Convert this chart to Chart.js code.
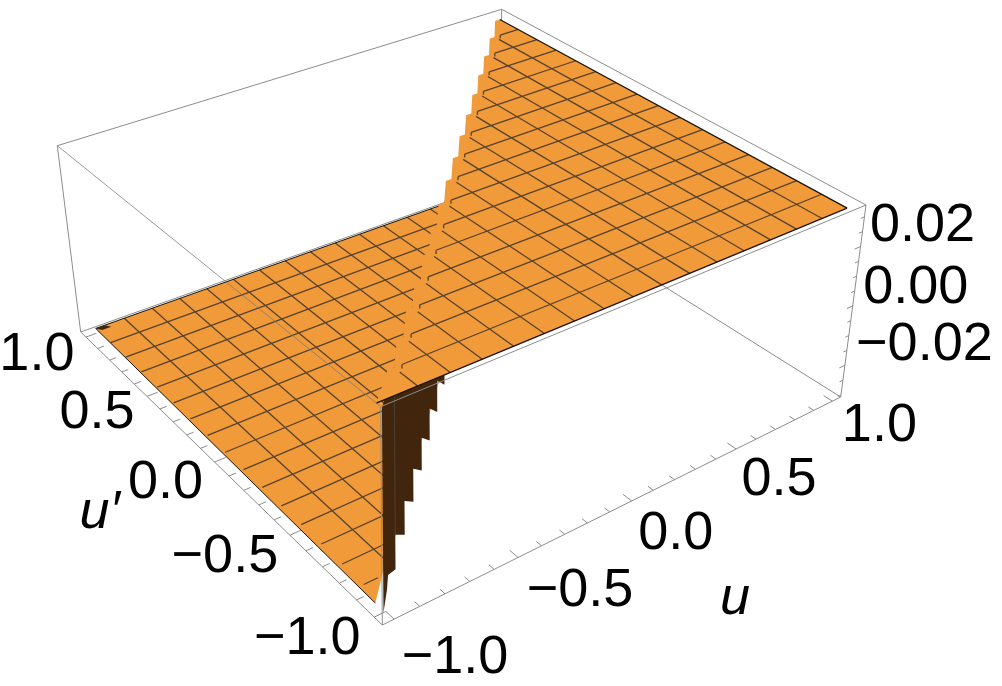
<!DOCTYPE html>
<html>
<head>
<meta charset="utf-8">
<style>
  html, body { margin: 0; background: #fff; }
  canvas { display: block; }
</style>
<script src="https://cdn.jsdelivr.net/npm/chart.js@4"></script>
</head>
<body>
<canvas id="chart" width="1002" height="686"></canvas>
<script>
// axis ticks
const axisTicks = [-1, -0.9, -0.8, -0.7, -0.6, -0.5, -0.4, -0.3, -0.2, -0.1, 0, 0.1, 0.2, 0.3, 0.4, 0.5, 0.6, 0.7, 0.8, 0.9, 1];
const axisMajor = [-1, -0.5, 0, 0.5, 1];
const axisLabels = ['\u22121.0', '\u22120.5', '0.0', '0.5', '1.0'];
const zTicks = [-0.03, -0.025, -0.02, -0.015, -0.01, -0.005, 0, 0.005, 0.01, 0.015, 0.02, 0.025, 0.03];
const zMajor = [-0.02, 0, 0.02];
const zLabels = ['\u22120.02', '0.00', '0.02'];

// surface values
const meshLines = [-0.875, -0.75, -0.625, -0.5, -0.375, -0.25, -0.125, 0, 0.125, 0.25, 0.375, 0.5, 0.625, 0.75, 0.875];
const zLow = -0.029;
const zHigh = 0.0325;
const lowSheetU = [-1, 1, -0.875, -1.02];
const lowSheetUp = [1, 1, -0.82, -0.97];
const highSheetU = [1, 1, -1.03, -0.9, -0.875, -0.775, -0.75, -0.65, -0.625, -0.525, -0.5, -0.4, -0.375, -0.275, -0.25, -0.15, -0.125, -0.025, 0, 0.1, 0.125, 0.225, 0.25, 0.35, 0.375, 0.475, 0.5, 0.6, 0.625, 0.725, 0.75, 0.85, 0.875, 0.975];
const highSheetUp = [1, -1, -1, -0.875, -0.875, -0.75, -0.75, -0.625, -0.625, -0.5, -0.5, -0.375, -0.375, -0.25, -0.25, -0.125, -0.125, 0, 0, 0.125, 0.125, 0.25, 0.25, 0.375, 0.375, 0.5, 0.5, 0.625, 0.625, 0.75, 0.75, 0.875, 0.875, 1];
const wallT = [-1.03, 0, 0, -0.125, -0.125, -0.25, -0.25, -0.375, -0.375, -0.5, -0.5, -0.625, -0.625, -0.75, -0.75, -0.875, -0.875, -0.97, -0.985, -1.03];
const wallZ = [0.0325, 0.0325, -0.029, -0.0185, -0.029, -0.0185, -0.029, -0.0185, -0.029, -0.0185, -0.029, -0.0185, -0.029, -0.0185, -0.029, -0.0185, -0.029, -0.0225, -0.0255, -0.0285];
const cornerU = [-1, -0.96, -0.945, -0.985];
const cornerUp = [1, 1, 0.975, 0.975];

// view of the box
const boxLimit = 1.045;
const zBoxMin = -0.0307;
const zBoxMax = 0.034;
const floorCorners = [[382.3, 625], [840.7, 397], [499.2, 183], [80.7, 332]];
const roofCorners = [[380.7, 406.7], [866, 205], [501.7, 9.3], [57.3, 145.7]];

const colors = { orange: '#f19a3a', wall: '#41250c', mesh: 'rgba(50,45,40,0.8)', box: '#8c8c8c', edge: '#1a1208' };

function quadMap(q) {
  const [[x0, y0], [x1, y1], [x2, y2], [x3, y3]] = q;
  const dx1 = x1 - x2, dx2 = x3 - x2, sx = x0 - x1 + x2 - x3;
  const dy1 = y1 - y2, dy2 = y3 - y2, sy = y0 - y1 + y2 - y3;
  const den = dx1 * dy2 - dx2 * dy1;
  const g = (sx * dy2 - dx2 * sy) / den, h = (dx1 * sy - sx * dy1) / den;
  const a = x1 - x0 + g * x1, b = x3 - x0 + h * x3;
  const d = y1 - y0 + g * y1, e = y3 - y0 + h * y3;
  return (s, t) => {
    const w = g * s + h * t + 1;
    return [(a * s + b * t + x0) / w, (d * s + e * t + y0) / w];
  };
}
const floorMap = quadMap(floorCorners);
const roofMap = quadMap(roofCorners);

function project(u, up, z) {
  const s = (u + boxLimit) / (2 * boxLimit);
  const t = (up + boxLimit) / (2 * boxLimit);
  const f = (z - zBoxMin) / (zBoxMax - zBoxMin);
  const lo = floorMap(s, t), hi = roofMap(s, t);
  return { x: lo[0] + (hi[0] - lo[0]) * f, y: lo[1] + (hi[1] - lo[1]) * f };
}

const gap = { x: NaN, y: NaN };
const B = boxLimit;

function shape(points, color) {
  return { data: points, showLine: true, pointRadius: 0, borderWidth: 0, borderColor: color, backgroundColor: color, fill: 'shape', tension: 0 };
}
function lines(points, color, width) {
  return { data: points, showLine: true, pointRadius: 0, borderWidth: width, borderColor: color, fill: false, spanGaps: false, tension: 0 };
}
// segments given as [u, u', z] pairs
function segs(pairs) {
  const out = [];
  pairs.forEach(p => { out.push(project(...p[0]), project(...p[1]), gap); });
  return out;
}

const lowMesh = [], highMesh = [];
meshLines.forEach(v => {
  lowMesh.push([[v, 1, zLow], [v, v + 0.07, zLow]]);
  lowMesh.push([[-1, v, zLow], [v - 0.07, v, zLow]]);
  highMesh.push([[v, -1, zHigh], [v, v - 0.03, zHigh]]);
  highMesh.push([[v + 0.03, v, zHigh], [1, v, zHigh]]);
  highMesh.push([[v + 0.03, v, zHigh], [v + 0.03, v, zHigh - 0.0012]]);
});

const backBox = [
  [[-B, B, zBoxMin], [B, B, zBoxMin]], [[B, B, zBoxMin], [B, -B, zBoxMin]],
  [[B, B, zBoxMin], [B, B, zBoxMax]], [[-B, B, zBoxMin], [-B, B, zBoxMax]],
  [[B, -B, zBoxMin], [B, -B, zBoxMax]], [[-B, B, zBoxMax], [B, B, zBoxMax]],
  [[B, B, zBoxMax], [B, -B, zBoxMax]]
];
const frontBox = [
  [[-B, -B, zBoxMax], [B, -B, zBoxMax]], [[-B, -B, zBoxMin], [-B, -B, zBoxMax]],
  [[-B, B, zBoxMin], [-B, -B, zBoxMin]], [[-B, -B, zBoxMin], [B, -B, zBoxMin]]
];

const tickSegs = [];
axisTicks.forEach(v => {
  const len = axisMajor.includes(v) ? 0.045 : 0.028;
  tickSegs.push([[v, -B, zBoxMin], [v, -B + len, zBoxMin]]);
  tickSegs.push([[-B, v, zBoxMin], [-B + len, v, zBoxMin]]);
});
zTicks.forEach(v => {
  const len = zMajor.includes(v) ? 0.03 : 0.018;
  tickSegs.push([[B, -B, v], [B - len, -B, v]]);
});

// paint order, back to front
const layers = [
  lines(segs(backBox), colors.box, 1),
  shape(lowSheetU.map((u, i) => project(u, lowSheetUp[i], zLow)), colors.orange),
  lines(segs(lowMesh), colors.mesh, 1.3),
  lines(segs([[[-1, 1, zLow], [1, 1, zLow]], [[-1, 1, zLow], [-1.02, -0.97, zLow]]]), colors.edge, 1),
  shape(cornerU.map((u, i) => project(u, cornerUp[i], zLow)), colors.wall),
  shape(wallT.map((t, i) => project(t, t, wallZ[i])), colors.wall),
  lines(segs([[[-0.875, -0.875, zLow + 0.01], [-0.875, -0.875, zHigh]]]), 'rgba(90,90,90,0.5)', 1),
  shape(highSheetU.map((u, i) => project(u, highSheetUp[i], zHigh)), colors.orange),
  lines(segs(highMesh), colors.mesh, 1.3),
  lines(segs([[[1, 1, zHigh], [1, -1, zHigh]], [[1, -1, zHigh], [-1.03, -1, zHigh]]]), colors.edge, 1.2),
  lines(segs([[[-B, B, zBoxMax], [-B, -B, zBoxMax]]]), 'rgba(120,120,120,0.75)', 1),
  lines(segs(frontBox), colors.box, 1),
  lines(segs(tickSegs), colors.box, 1)
];
layers.forEach((d, i) => { d.order = layers.length - i; });

const uLabelShift = [[61, 54], [62, 49], [44, 48], [43, 46], [47, 40]];
const upLabelShift = [[-67, 37], [-65, 37], [-49, 36], [-50, 32], [-49, 33]];
const zLabelShift = [[79.5, -5], [63, -3], [62, -6]];

// tick and axis text, placed from the same projection as the marks
const axisText = {
  id: 'axisText',
  afterDatasetsDraw(chart) {
    const { ctx, scales } = chart;
    const put = (text, pt, shift, font) => {
      ctx.font = font || '54px "Liberation Sans"';
      ctx.fillStyle = '#000';
      ctx.textAlign = 'center';
      ctx.textBaseline = 'alphabetic';
      ctx.fillText(text, scales.x.getPixelForValue(pt.x) + shift[0], scales.y.getPixelForValue(pt.y) + shift[1]);
    };
    axisMajor.forEach((v, i) => {
      put(axisLabels[i], project(v, -B, zBoxMin), uLabelShift[i]);
      put(axisLabels[i], project(-B, v, zBoxMin), upLabelShift[i]);
    });
    zMajor.forEach((v, i) => {
      put(zLabels[i], project(B, -B, v), zLabelShift[i]);
    });
    put('u', project(0.25, -B, zBoxMin), [50, 140], 'italic 54px "Liberation Sans"');
    put('u\u2032', project(-B, -0.2, zBoxMin), [-144, 38], 'italic 54px "Liberation Sans"');
  }
};

new Chart(document.getElementById('chart').getContext('2d'), {
  type: 'scatter',
  data: { datasets: layers },
  plugins: [axisText],
  options: {
    responsive: false,
    animation: false,
    layout: { padding: 0 },
    plugins: { legend: { display: false }, tooltip: { enabled: false } },
    scales: {
      x: { type: 'linear', display: false, min: 0, max: 1002 },
      y: { type: 'linear', display: false, min: 0, max: 686, reverse: true }
    }
  }
});
</script>
</body>
</html>
